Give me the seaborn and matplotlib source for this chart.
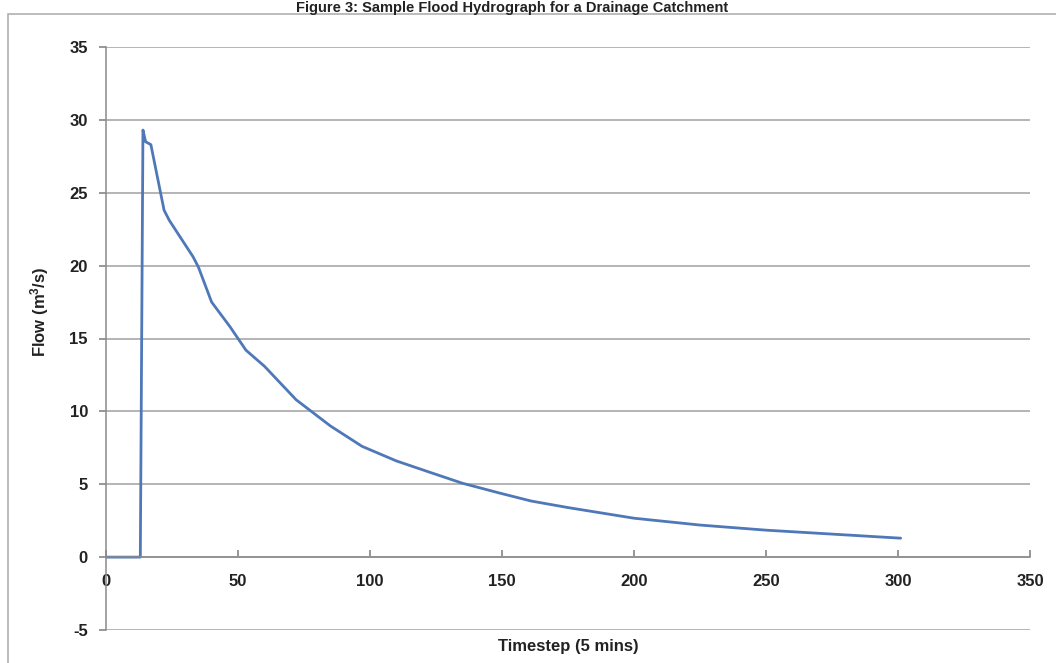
import numpy as np
import pandas as pd
import matplotlib
matplotlib.use("Agg")
import matplotlib.pyplot as plt
import seaborn as sns
from matplotlib.patches import Rectangle

timestep = [0, 13, 14, 15, 17, 22, 24, 33, 35, 40, 47, 53, 60, 72, 85, 97,
            110, 123, 135, 149, 161, 175, 200, 225, 250, 275, 301]
flow = [0, 0, 29.3, 28.5, 28.3, 23.8, 23.1, 20.6, 19.9, 17.5, 15.8, 14.2, 13.1,
        10.8, 9.0, 7.6, 6.6, 5.8, 5.07, 4.4, 3.85, 3.4, 2.67, 2.2, 1.85, 1.58, 1.3]
x_ticks = [0, 50, 100, 150, 200, 250, 300, 350]
y_ticks = [-5, 0, 5, 10, 15, 20, 25, 30, 35]

title = "Figure 3: Sample Flood Hydrograph for a Drainage Catchment"
x_label = "Timestep (5 mins)"
y_label = "Flow (m$^3$/s)"

sns.set_theme(style="white")
plt.rcParams["font.family"] = ["Liberation Sans", "DejaVu Sans"]
plt.rcParams["mathtext.fontset"] = "custom"
plt.rcParams["mathtext.rm"] = "Liberation Sans:bold"
plt.rcParams["mathtext.it"] = "Liberation Sans:bold"

df = pd.DataFrame({"t": timestep, "q": flow})

fig = plt.figure(figsize=(10.56, 6.63), dpi=100)
fig.patch.set_facecolor("white")

# chart-area frame (cropped screenshot look)
fig.add_artist(Rectangle((8 / 1056, -0.05), 1.2, 0.979 + 0.05,
                         transform=fig.transFigure, fill=False,
                         edgecolor="#b0b0b0", lw=1.2))
fig.text(0.485, 0.999, title, ha="center", va="top",
         fontsize=10.5, fontweight="bold", color="#222222")

ax = fig.add_axes([106 / 1056, 1 - 630 / 663, 924 / 1056, 583 / 663])
sns.lineplot(data=df, x="t", y="q", ax=ax, color="#4f78b8", lw=2.0)

ax.set_xlim(0, 350)
ax.set_ylim(-5, 35)
ax.set_xticks(x_ticks)
ax.set_yticks(y_ticks)

ax.grid(axis="y", color="#a0a0a0", lw=1.1)
ax.set_axisbelow(True)
for s in ["top", "right"]:
    ax.spines[s].set_visible(False)
ax.spines["bottom"].set_position(("data", 0))
ax.spines["bottom"].set_color("#8a8a8a")
ax.spines["left"].set_color("#8a8a8a")
ax.spines["bottom"].set_linewidth(1.1)
ax.spines["left"].set_linewidth(1.1)
ax.tick_params(axis="x", direction="in", length=5, color="#8a8a8a", pad=12,
               labelcolor="#222222", labelsize=12, bottom=True)
ax.tick_params(axis="y", direction="out", length=5, color="#8a8a8a", pad=8,
               labelcolor="#222222", labelsize=12, left=True)
ax.set_xticklabels([str(v) for v in x_ticks])
ax.set_yticklabels([str(v) for v in y_ticks])
for lab in ax.get_xticklabels() + ax.get_yticklabels():
    lab.set_fontweight("bold")

ax.set_xlabel("")
ax.set_ylabel("")
fig.text(568 / 1056, 1 - 646 / 663, x_label, ha="center", va="center",
         fontsize=12, fontweight="bold", color="#222222")
fig.text(40 / 1056, 1 - 312 / 663, y_label, ha="center", va="center",
         rotation=90, fontsize=12, fontweight="bold", color="#222222")

fig.savefig("out.png", dpi=100)
